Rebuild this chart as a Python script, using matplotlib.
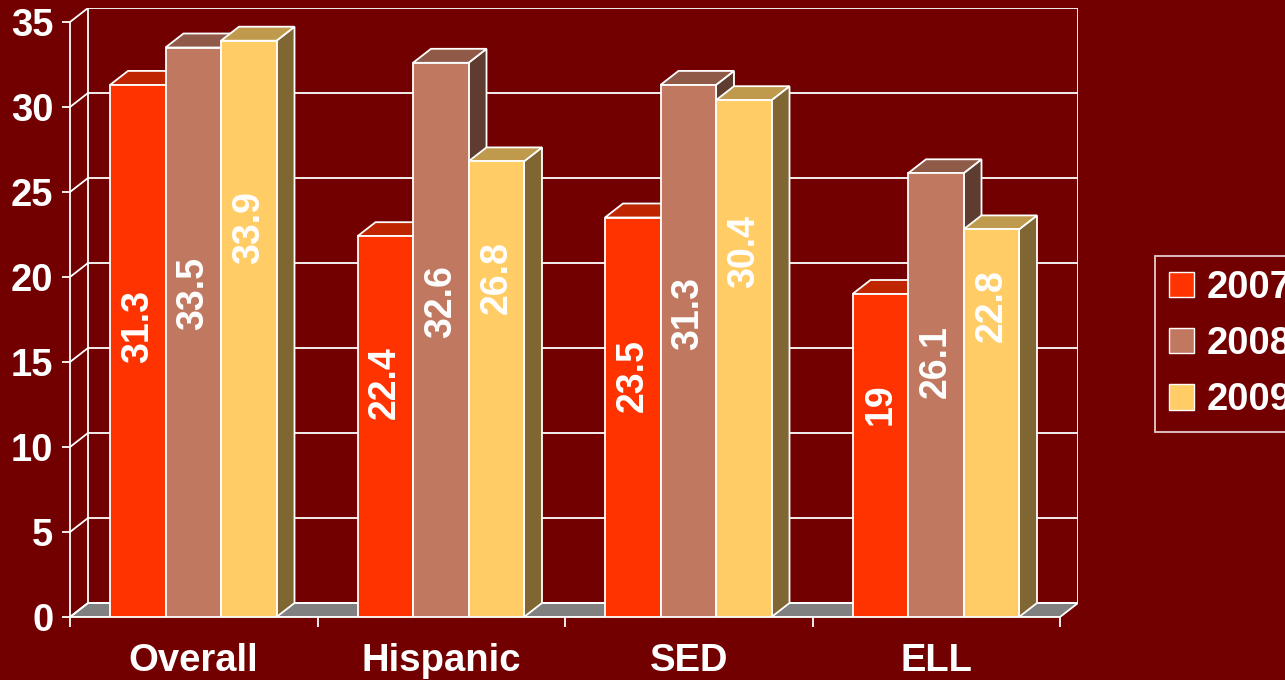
import numpy as np
import matplotlib.pyplot as plt
from matplotlib.patches import Polygon, Rectangle, Patch

plt.rcParams['font.family'] = ['Liberation Sans', 'DejaVu Sans']
plt.rcParams['font.weight'] = 'bold'

categories = ['Overall', 'Hispanic', 'SED', 'ELL']
years = ['2007', '2008', '2009']
v2007 = [31.3, 22.4, 23.5, 19]
v2008 = [33.5, 32.6, 31.3, 26.1]
v2009 = [33.9, 26.8, 30.4, 22.8]
series = [v2007, v2008, v2009]

bg = '#720000'
front_c = ['#FF3300', '#C07860', '#FFCC66']
top_c = ['#BF2600', '#8F5A48', '#BF994C']
side_c = ['#7F1A00', '#5F3C30', '#7F6633']
# label height = a * value + b, per series (mimics the original placement)
label_rule = [(0.374, 5.4), (0.545, 0.8), (0.417, 8.8)]

W, H = 1285, 680
fig = plt.figure(figsize=(W / 100, H / 100), dpi=100, facecolor=bg)

# pixel geometry of the pseudo-3D box
px_left, px_right, px_zero, px_top = 70, 1060, 617, 22
ddx_px, ddy_px = 18, 14
ymax = 35
ppx = (px_right - px_left) / len(categories)
ppy = (px_zero - px_top) / ymax
dx = ddx_px / ppx
dy = ddy_px / ppy

ax = fig.add_axes([px_left / W, (H - px_zero) / H,
                   (px_right - px_left + ddx_px) / W,
                   (px_zero - px_top + ddy_px) / H])
ax.set_facecolor(bg)
ax.set_xlim(0, len(categories) + dx)
ax.set_ylim(0, ymax + dy)

wc = 'white'
lw = 1.3
fs = 27.5
n = len(categories)
# floor
ax.add_patch(Polygon([(0, 0), (n, 0), (n + dx, dy), (dx, dy)],
                     closed=True, facecolor='#808080', edgecolor=wc, lw=lw, zorder=1))
# back wall grid + diagonals
for v in range(0, ymax + 1, 5):
    ax.plot([dx, n + dx], [v + dy, v + dy], color=wc, lw=lw, zorder=1)
    ax.plot([0, dx], [v, v + dy], color=wc, lw=lw, zorder=1)
ax.plot([dx, dx], [dy, ymax + dy], color=wc, lw=lw, zorder=1)
ax.plot([n + dx, n + dx], [dy, ymax + dy], color=wc, lw=lw, zorder=1)

# bars
bw = 55.5 / ppx
off = 40 / ppx
z = 3
for i in range(n):
    for j, s in enumerate(series):
        v = s[i]
        x0 = i + off + j * bw
        ax.add_patch(Polygon([(x0 + bw, 0), (x0 + bw + dx, dy), (x0 + bw + dx, v + dy), (x0 + bw, v)],
                             closed=True, facecolor=side_c[j], edgecolor=wc, lw=lw, zorder=z))
        ax.add_patch(Polygon([(x0, v), (x0 + bw, v), (x0 + bw + dx, v + dy), (x0 + dx, v + dy)],
                             closed=True, facecolor=top_c[j], edgecolor=wc, lw=lw, zorder=z))
        ax.add_patch(Rectangle((x0, 0), bw, v, facecolor=front_c[j], edgecolor=wc, lw=lw, zorder=z))
        z += 1
        a, b = label_rule[j]
        ax.text(x0 + bw / 2, a * v + b, f'{v:g}', rotation=90, ha='center', va='center',
                color='white', fontsize=27, fontweight='bold', zorder=50)

# axes spines / ticks
for sp in ['top', 'right']:
    ax.spines[sp].set_visible(False)
ax.spines['left'].set_bounds(0, ymax)
ax.spines['bottom'].set_bounds(0, n)
for sp in ['left', 'bottom']:
    ax.spines[sp].set_color(wc)
    ax.spines[sp].set_linewidth(lw)
    ax.spines[sp].set_zorder(2)
ax.set_yticks(range(0, ymax + 1, 5))
ax.set_xticks(range(0, n + 1))
ax.set_xticklabels([])
ax.set_xticks(np.arange(n) + 0.5, minor=True)
ax.set_xticklabels(categories, minor=True)
ax.tick_params(axis='y', colors=wc, length=6, width=lw, labelsize=fs, pad=6)
ax.tick_params(axis='x', which='major', colors=wc, length=7, width=lw)
ax.tick_params(axis='x', which='minor', length=0, labelsize=fs, labelcolor='white', pad=19)
for t in ax.get_yticklabels() + ax.get_xticklabels(minor=True):
    t.set_fontweight('bold')

handles = [Patch(facecolor=c, edgecolor=wc, lw=1) for c in front_c]
leg = fig.legend(handles, years, loc='upper left', bbox_to_anchor=(1155 / W, (H - 256) / H),
                 frameon=True, fancybox=False, facecolor=bg, edgecolor=wc, fontsize=fs,
                 handlelength=0.65, handleheight=0.65, handletextpad=0.35, labelspacing=0.53,
                 borderpad=0.36, borderaxespad=0)
leg.get_frame().set_linewidth(1.3)
for t in leg.get_texts():
    t.set_color('white')
    t.set_fontweight('bold')

fig.savefig('out.png', dpi=100, facecolor=bg)
